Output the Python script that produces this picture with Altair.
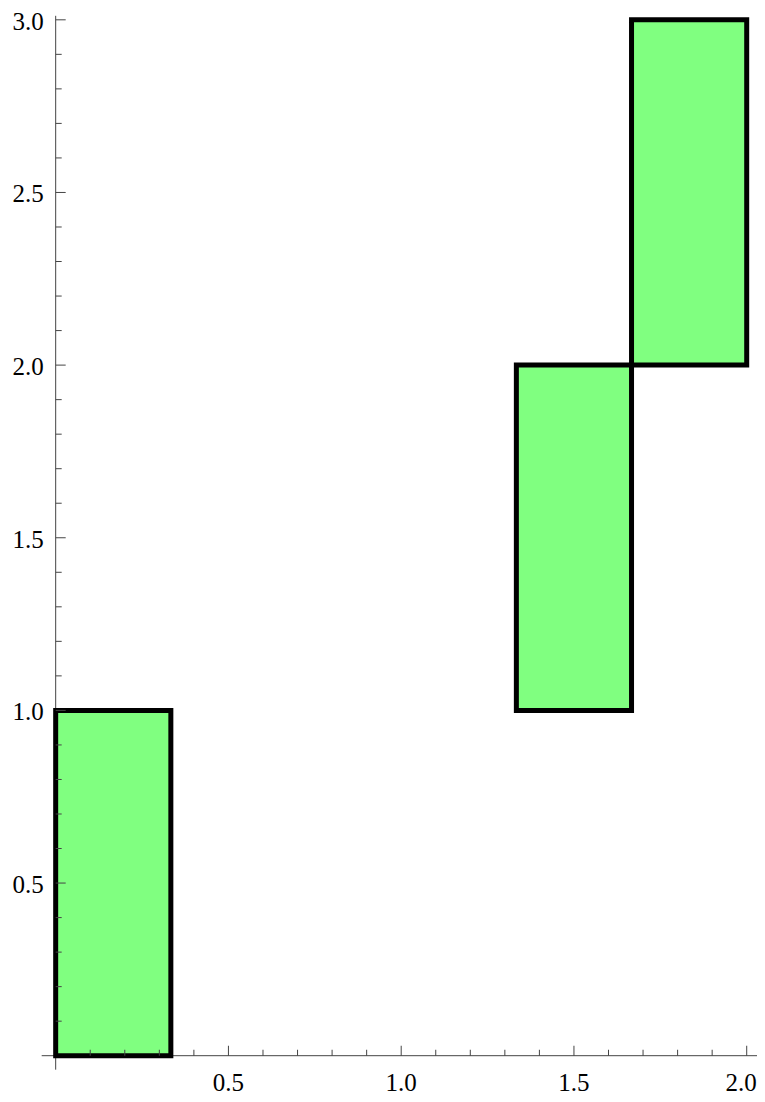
import altair as alt
import pandas as pd

# Rectangles (data coordinates)
rect_x0 = [0.0, 4 / 3, 5 / 3]
rect_x1 = [1 / 3, 5 / 3, 2.0]
rect_y0 = [0.0, 1.0, 2.0]
rect_y1 = [1.0, 2.0, 3.0]

# Tick values and labels
x_major = [0.5, 1.0, 1.5, 2.0]
x_labels = ["0.5", "1.0", "1.5", "2.0"]
x_minor = [0.1, 0.2, 0.3, 0.4, 0.6, 0.7, 0.8, 0.9,
           1.1, 1.2, 1.3, 1.4, 1.6, 1.7, 1.8, 1.9]
y_major = [0.5, 1.0, 1.5, 2.0, 2.5, 3.0]
y_labels = ["0.5", "1.0", "1.5", "2.0", "2.5", "3.0"]
y_minor = [0.1, 0.2, 0.3, 0.4, 0.6, 0.7, 0.8, 0.9,
           1.1, 1.2, 1.3, 1.4, 1.6, 1.7, 1.8, 1.9,
           2.1, 2.2, 2.3, 2.4, 2.6, 2.7, 2.8, 2.9]

# Axis line extents
x_axis_range = [-0.0405, 2.0298]
y_axis_range = [-0.0405, 3.0116]

X_DOMAIN = [-0.138, 2.0298]
Y_DOMAIN = [-0.1283, 3.0342]

xs = alt.Scale(domain=X_DOMAIN, nice=False, zero=False)
ys = alt.Scale(domain=Y_DOMAIN, nice=False, zero=False)

df_rect = pd.DataFrame({"x0": rect_x0, "x1": rect_x1, "y0": rect_y0, "y1": rect_y1})
df_axes = pd.DataFrame({
    "x0": [x_axis_range[0], 0.0], "x1": [x_axis_range[1], 0.0],
    "y0": [0.0, y_axis_range[0]], "y1": [0.0, y_axis_range[1]],
})
df_xmaj = pd.DataFrame({"v": x_major, "z": [0.0] * len(x_major), "lab": x_labels})
df_xmin = pd.DataFrame({"v": x_minor, "z": [0.0] * len(x_minor)})
df_ymaj = pd.DataFrame({"v": y_major, "z": [0.0] * len(y_major), "lab": y_labels})
df_ymin = pd.DataFrame({"v": y_minor, "z": [0.0] * len(y_minor)})

AX = "#444444"
FONT = "Liberation Serif, Times New Roman, serif"

axes = alt.Chart(df_axes).mark_rule(color=AX, strokeWidth=1).encode(
    x=alt.X("x0:Q", scale=xs, axis=None), x2="x1",
    y=alt.Y("y0:Q", scale=ys, axis=None), y2="y1",
)

rects = alt.Chart(df_rect).mark_rect(
    fill="#80FF80", stroke="black", strokeWidth=5, strokeJoin="miter", opacity=1
).encode(
    x=alt.X("x0:Q", scale=xs, axis=None), x2="x1",
    y=alt.Y("y0:Q", scale=ys, axis=None), y2="y1",
)

xmaj = alt.Chart(df_xmaj).mark_tick(
    orient="vertical", size=10, thickness=1, yOffset=-5, color=AX, opacity=1
).encode(x=alt.X("v:Q", scale=xs, axis=None), y=alt.Y("z:Q", scale=ys, axis=None))
xmin = alt.Chart(df_xmin).mark_tick(
    orient="vertical", size=6, thickness=1, yOffset=-3, color=AX, opacity=1
).encode(x=alt.X("v:Q", scale=xs, axis=None), y=alt.Y("z:Q", scale=ys, axis=None))
ymaj = alt.Chart(df_ymaj).mark_tick(
    orient="horizontal", size=10, thickness=1, xOffset=5, color=AX, opacity=1
).encode(y=alt.Y("v:Q", scale=ys, axis=None), x=alt.X("z:Q", scale=xs, axis=None))
ymin = alt.Chart(df_ymin).mark_tick(
    orient="horizontal", size=6, thickness=1, xOffset=3, color=AX, opacity=1
).encode(y=alt.Y("v:Q", scale=ys, axis=None), x=alt.X("z:Q", scale=xs, axis=None))

xlab = alt.Chart(df_xmaj).transform_filter("datum.v < 1.99").mark_text(
    font=FONT, fontSize=25, align="center", baseline="middle",
    dy=27, color="black"
).encode(x=alt.X("v:Q", scale=xs, axis=None), y=alt.Y("z:Q", scale=ys, axis=None), text="lab:N")
# last label kept inside the canvas edge
xlab_last = alt.Chart(df_xmaj).transform_filter("datum.v >= 1.99").mark_text(
    font=FONT, fontSize=25, align="right", baseline="middle",
    dx=10, dy=27, color="black"
).encode(x=alt.X("v:Q", scale=xs, axis=None), y=alt.Y("z:Q", scale=ys, axis=None), text="lab:N")
ylab = alt.Chart(df_ymaj).mark_text(
    font=FONT, fontSize=25, align="right", baseline="middle",
    dx=-12, dy=2, color="black"
).encode(y=alt.Y("v:Q", scale=ys, axis=None), x=alt.X("z:Q", scale=xs, axis=None), text="lab:N")

chart = alt.layer(axes, rects, xmin, xmaj, ymin, ymaj, xlab, xlab_last, ylab).properties(
    width=749, height=1092, padding=0,
    autosize=alt.AutoSizeParams(type="none"),
).configure_view(stroke=None)

chart.save("out.html", embed_options={"renderer": "svg", "actions": False})
